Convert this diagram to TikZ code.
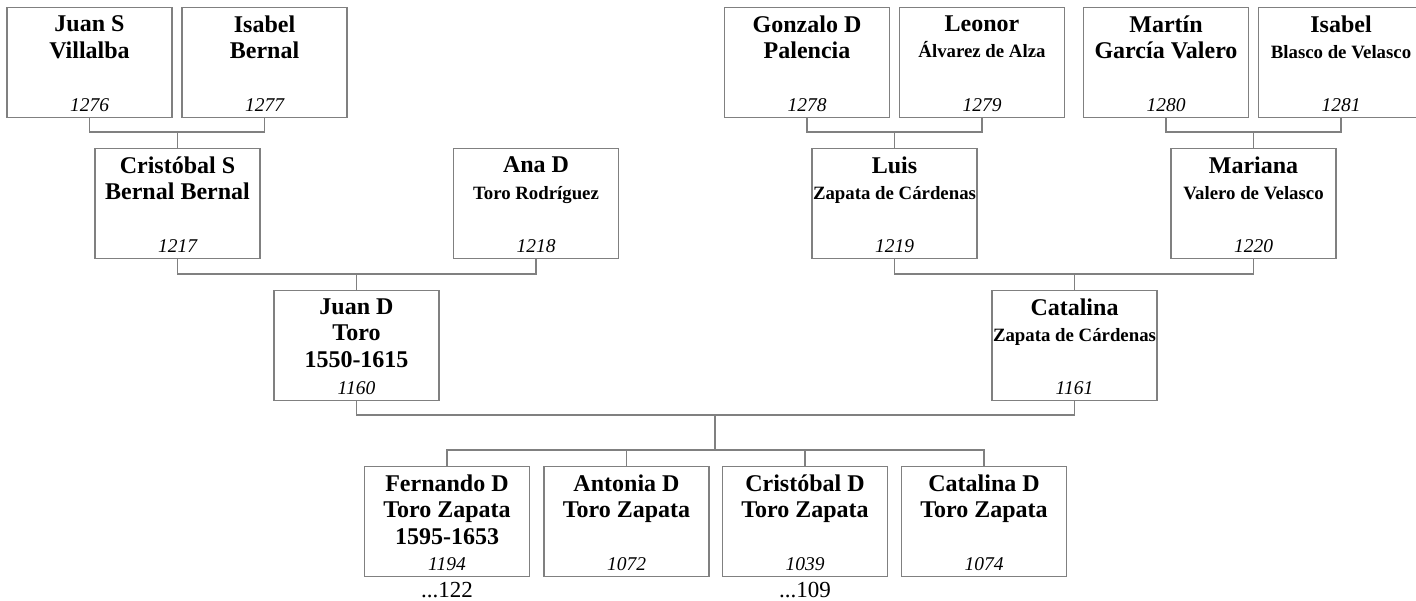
\documentclass[tikz,border=0pt]{standalone}
\usepackage{fontspec}
\setmainfont{Liberation Serif}
\usepackage{tikz}
\usetikzlibrary{positioning}
\definecolor{linegray}{RGB}{128,128,128}
\newcommand{\famname}[1]{{\fontsize{18.8}{27}\selectfont #1}}

\begin{document}
\begin{tikzpicture}[x=1pt, y=-1pt,
  box/.style={draw=linegray, line width=1.3pt, minimum width=165pt, minimum height=110pt,
              inner sep=0pt, anchor=north},
  who/.style={anchor=north, yshift=-8.5pt, inner sep=0pt, align=center,
              font=\fontsize{24}{26.5}\selectfont\bfseries},
  num/.style={anchor=base, yshift=6.5pt, inner sep=0pt, font=\fontsize{19.5}{22}\selectfont\itshape},
  more/.style={anchor=base, inner sep=0pt, font=\fontsize{23}{26}\selectfont},
  link/.style={draw=linegray, line width=1.3pt}
]
\useasboundingbox (0,0) rectangle (1416,600);
% great-grandparents
\node[box, label={[who]north:{Juan S\\Villalba}}, label={[num]south:1276}] (p1276) at (89.5,7) {};
\node[box, label={[who]north:{Isabel\\Bernal}}, label={[num]south:1277}] (p1277) at (264.5,7) {};
\node[box, label={[who]north:{Gonzalo D\\Palencia}}, label={[num]south:1278}] (p1278) at (807,7) {};
\node[box, label={[who]north:{Leonor\\\famname{Álvarez de Alza}}}, label={[num]south:1279}] (p1279) at (982,7) {};
\node[box, label={[who]north:{Martín\\García Valero}}, label={[num]south:1280}] (p1280) at (1166,7) {};
\node[box, label={[who]north:{Isabel\\\famname{Blasco de Velasco}}}, label={[num]south:1281}] (p1281) at (1341,7) {};
% grandparents
\node[box, label={[who]north:{Cristóbal S\\Bernal Bernal}}, label={[num]south:1217}] (p1217) at (177.5,148) {};
\node[box, label={[who]north:{Ana D\\\famname{Toro Rodríguez}}}, label={[num]south:1218}] (p1218) at (536,148) {};
\node[box, label={[who]north:{Luis\\\famname{Zapata de Cárdenas}}}, label={[num]south:1219}] (p1219) at (894.5,148) {};
\node[box, label={[who]north:{Mariana\\\famname{Valero de Velasco}}}, label={[num]south:1220}] (p1220) at (1253.5,148) {};
% parents
\node[box, label={[who]north:{Juan D\\Toro\\1550-1615}}, label={[num]south:1160}] (p1160) at (356.5,290) {};
\node[box, label={[who]north:{Catalina\\\famname{Zapata de Cárdenas}}}, label={[num]south:1161}] (p1161) at (1074.5,290) {};
% children
\node[box, label={[who]north:{Fernando D\\Toro Zapata\\1595-1653}}, label={[num]south:1194}] (p1194) at (447,466) {};
\node[box, label={[who]north:{Antonia D\\Toro Zapata}}, label={[num]south:1072}] (p1072) at (626.5,466) {};
\node[box, label={[who]north:{Cristóbal D\\Toro Zapata}}, label={[num]south:1039}] (p1039) at (805,466) {};
\node[box, label={[who]north:{Catalina D\\Toro Zapata}}, label={[num]south:1074}] (p1074) at (984,466) {};
\node[more] (m1194) at (447,597) {...122};
\node[more] (m1039) at (805,597) {...109};

\coordinate (j1217) at (177.5,132);
\coordinate (j1219) at (894.5,132);
\coordinate (j1220) at (1253.5,132);
\coordinate (j1160) at (356.5,274);
\coordinate (j1161) at (1074.5,274);
\coordinate (jkids) at (715,415);
\coordinate (bkids) at (715,450);

\draw[link] (p1276.south) |- (j1217) -| (p1277.south);
\draw[link] (j1217) -- (p1217.north);
\draw[link] (p1278.south) |- (j1219) -| (p1279.south);
\draw[link] (j1219) -- (p1219.north);
\draw[link] (p1280.south) |- (j1220) -| (p1281.south);
\draw[link] (j1220) -- (p1220.north);
\draw[link] (p1217.south) |- (j1160) -| (p1218.south);
\draw[link] (j1160) -- (p1160.north);
\draw[link] (p1219.south) |- (j1161) -| (p1220.south);
\draw[link] (j1161) -- (p1161.north);
\draw[link] (p1160.south) |- (jkids) -| (p1161.south);
\draw[link] (jkids) -- (bkids);
\draw[link] (p1194.north) |- (bkids) -| (p1074.north);
\draw[link] (p1072.north) -- (p1072.north |- bkids);
\draw[link] (p1039.north) -- (p1039.north |- bkids);
\end{tikzpicture}
\end{document}
